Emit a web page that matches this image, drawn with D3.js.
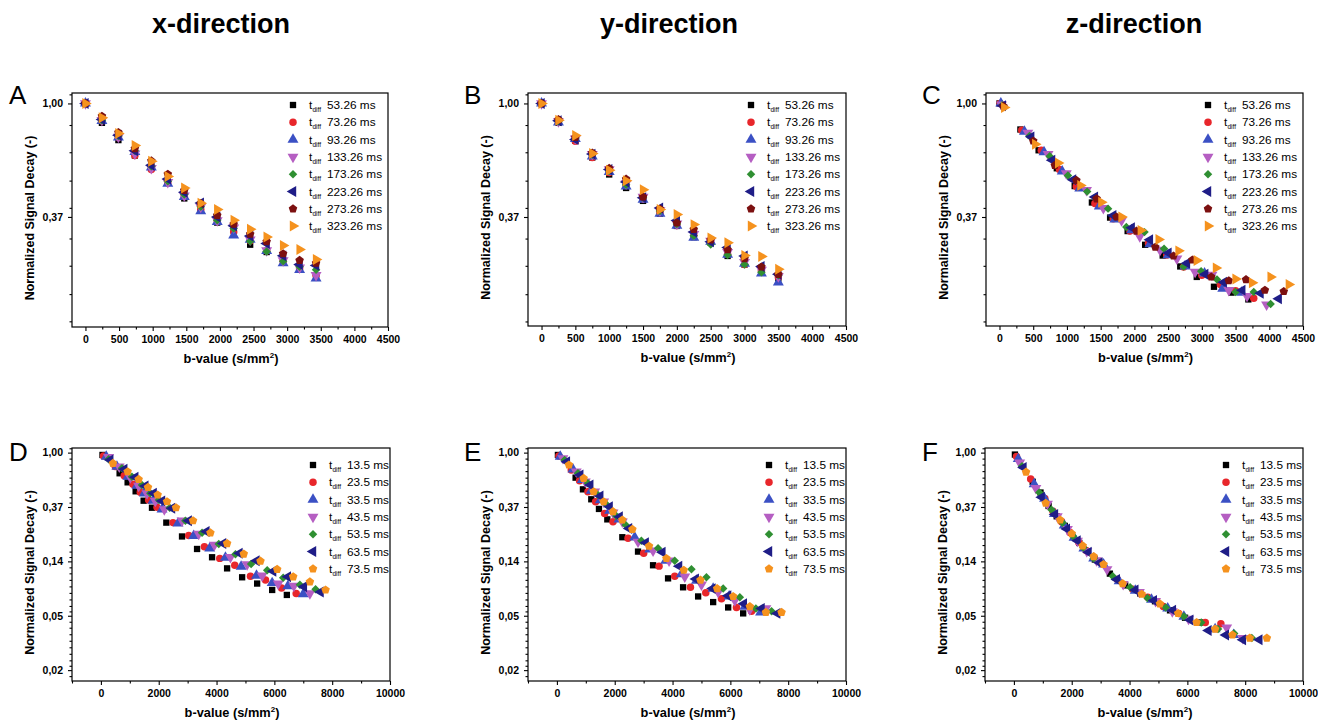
<!DOCTYPE html>
<html>
<head>
<meta charset="utf-8">
<script src="https://cdnjs.cloudflare.com/ajax/libs/d3/7.8.5/d3.min.js"></script>
<style>
body { margin: 0; background: #fff; }
svg { font-family: "Liberation Sans", Arial, sans-serif; }
</style>
</head>
<body>
<div id="chart"></div>
<script>
// column titles and panel letters
var columnTitles = ["x-direction", "y-direction", "z-direction"];
var panelLetters = ["A", "B", "C", "D", "E", "F"];

// legend labels (t_diff)
var legendTop = ["53.26 ms", "73.26 ms", "93.26 ms", "133.26 ms", "173.26 ms", "223.26 ms", "273.26 ms", "323.26 ms"];
var legendBottom = ["13.5 ms", "23.5 ms", "33.5 ms", "43.5 ms", "53.5 ms", "63.5 ms", "73.5 ms"];

// tick values / labels
var xTicksTop = [0, 500, 1000, 1500, 2000, 2500, 3000, 3500, 4000, 4500];
var xMinorTop = [250, 750, 1250, 1750, 2250, 2750, 3250, 3750, 4250];
var xTicksBottom = [0, 2000, 4000, 6000, 8000, 10000];
var xMinorBottom = [-1000, 1000, 3000, 5000, 7000, 9000];
var yTickLabelsTop = ["1,00", "0,37"];
var yTickLabelsBottom = ["1,00", "0,37", "0,14", "0,05", "0,02"];

// panel A: x-direction, long diffusion times
var bA = [0, 245, 490, 735, 980, 1225, 1470, 1715, 1960, 2205, 2450, 2695, 2940, 3185, 3430];
var sigA = [
  [1, .843, .724, .632, .569, .497, .433, .393, .350, .329, .288, .270, .247, .233, .217],
  [1, .858, .741, .632, .559, .497, .441, .393, .357, .322, .298, .273, .250, .233, .220],
  [1, .858, .741, .653, .569, .494, .439, .387, .352, .313, .301, .273, .245, .231, .214],
  [1, .863, .745, .643, .565, .500, .444, .402, .357, .335, .301, .274, .251, .235, .220],
  [1, .863, .750, .659, .575, .504, .448, .402, .357, .332, .297, .271, .249, .237, .231],
  [1, .868, .756, .659, .580, .514, .457, .416, .368, .340, .311, .291, .261, .242, .240],
  [1, .894, .774, .672, .603, .536, .465, .414, .373, .345, .316, .296, .266, .251, .245],
  [1, .881, .767, .690, .601, .525, .475, .415, .393, .357, .330, .308, .286, .276, .253]
];

// panel B: y-direction, long diffusion times
var bB = [0, 250, 500, 750, 1000, 1250, 1500, 1750, 2000, 2250, 2500, 2750, 3000, 3250, 3500];
var sigB = [
  [1, .843, .720, .621, .535, .475, .424, .379, .340, .308, .294, .261, .242, .226, .214],
  [1, .851, .717, .621, .544, .485, .431, .381, .341, .313, .294, .265, .242, .229, .217],
  [1, .846, .732, .628, .547, .482, .429, .379, .341, .307, .296, .264, .244, .224, .207],
  [1, .853, .734, .640, .559, .494, .439, .390, .347, .316, .298, .270, .247, .231, .218],
  [1, .853, .734, .636, .552, .489, .436, .388, .346, .312, .289, .263, .242, .226, .220],
  [1, .858, .728, .640, .559, .501, .436, .398, .357, .322, .296, .281, .261, .238, .222],
  [1, .868, .741, .647, .565, .514, .439, .395, .349, .330, .301, .276, .255, .237, .222],
  [1, .863, .754, .643, .555, .506, .468, .393, .376, .344, .306, .293, .262, .260, .232]
];

// panel C: z-direction, long diffusion times (b differs per series)
var bC = [
  [0, 310, 580, 850, 1115, 1370, 1640, 1900, 2160, 2420, 2680, 2925, 3180, 3440, 3690],
  [10, 330, 620, 890, 1140, 1415, 1686, 1935, 2210, 2480, 2730, 3000, 3275, 3500, 3770],
  [20, 370, 660, 930, 1190, 1480, 1710, 1960, 2230, 2500, 2750, 3040, 3310, 3590],
  [30, 420, 720, 990, 1290, 1540, 1810, 2080, 2380, 2630, 2900, 3150, 3400, 3670, 3960],
  [40, 445, 745, 1015, 1300, 1610, 1880, 2150, 2440, 2730, 2990, 3225, 3500, 3770, 4020],
  [50, 470, 780, 1090, 1415, 1686, 1960, 2230, 2505, 2780, 3050, 3325, 3600, 3870, 4140],
  [60, 500, 820, 1140, 1440, 1735, 2030, 2310, 2580, 2860, 3140, 3400, 3655, 3935, 4215],
  [70, 530, 870, 1200, 1510, 1810, 2095, 2360, 2655, 2925, 3210, 3500, 3745, 4020, 4290]
];
var sigC = [
  [1, .795, .662, .565, .483, .418, .366, .325, .288, .262, .238, .217, .199, .189, .178],
  [1, .790, .662, .559, .481, .414, .362, .325, .292, .263, .237, .220, .203, .192, .180],
  [1, .780, .651, .550, .473, .404, .360, .328, .290, .263, .238, .224, .196, .189],
  [.99, .772, .640, .540, .466, .398, .357, .310, .275, .255, .227, .221, .193, .183, .170],
  [.985, .750, .628, .530, .460, .396, .337, .322, .278, .238, .228, .212, .190, .190, .171],
  [.98, .745, .607, .511, .439, .373, .335, .301, .268, .245, .222, .207, .193, .188, .179],
  [.975, .719, .580, .508, .432, .368, .325, .282, .261, .252, .217, .210, .212, .193, .191],
  [.965, .698, .592, .486, .419, .368, .327, .302, .273, .251, .235, .213, .206, .217, .203]
];

// panel D: x-direction, short diffusion times
var bD = [
  [55, 647, 924, 1201, 1478, 1767, 2263, 2806, 3326, 3845, 4365, 4885, 5404, 5924, 6432],
  [92, 497, 808, 1109, 1363, 1651, 1940, 2494, 3037, 3580, 4111, 4630, 5173, 5693, 6247, 6755],
  [185, 554, 935, 1247, 1501, 1801, 2113, 2667, 3210, 3764, 4307, 4850, 5381, 5924, 6467, 6998],
  [266, 635, 1016, 1305, 1594, 1882, 2194, 2806, 3383, 3926, 4480, 5058, 5577, 6132, 6674, 7229],
  [266, 727, 1074, 1420, 1709, 2009, 2379, 2921, 3499, 4076, 4654, 5197, 5751, 6305, 6882, 7425],
  [323, 808, 1189, 1536, 1824, 2113, 2460, 3037, 3649, 4226, 4792, 5381, 5958, 6467, 7021, 7598],
  [416, 924, 1305, 1628, 1963, 2286, 2598, 3187, 3788, 4365, 4942, 5520, 6097, 6651, 7229, 7771]
];
var sigD = [
  [.958, .684, .579, .491, .413, .363, .276, .214, .170, .146, .119, .101, .090, .080, .073],
  [.940, .773, .655, .558, .482, .418, .366, .276, .218, .177, .143, .126, .103, .096, .083, .075],
  [.929, .773, .643, .545, .473, .413, .352, .272, .216, .172, .145, .123, .104, .091, .086, .074],
  [.918, .773, .635, .541, .473, .411, .352, .286, .224, .183, .146, .128, .104, .090, .086, .075],
  [.884, .750, .643, .551, .473, .418, .363, .286, .229, .186, .154, .129, .115, .100, .088, .081],
  [.874, .736, .635, .541, .473, .411, .359, .286, .234, .188, .157, .137, .113, .102, .085, .077],
  [.822, .705, .612, .528, .459, .406, .363, .286, .229, .188, .155, .136, .117, .102, .093, .080]
];

// panel E: y-direction, short diffusion times
var bE = [
  [35, 647, 901, 1189, 1455, 1744, 2263, 2806, 3326, 3845, 4365, 4885, 5404, 5924, 6443],
  [69, 497, 785, 1074, 1340, 1651, 1940, 2460, 3002, 3533, 4076, 4619, 5150, 5693, 6212, 6732],
  [115, 554, 878, 1189, 1501, 1824, 2148, 2691, 3210, 3764, 4307, 4827, 5404, 5958, 6501, 7044],
  [208, 670, 982, 1305, 1617, 1940, 2263, 2806, 3326, 3880, 4423, 5000, 5577, 6155, 6674, 7229],
  [266, 727, 1074, 1420, 1732, 2055, 2379, 2921, 3499, 4076, 4654, 5173, 5751, 6328, 6882, 7425],
  [346, 808, 1155, 1501, 1824, 2171, 2494, 3072, 3649, 4226, 4804, 5381, 5924, 6467, 7079, 7621],
  [416, 924, 1270, 1617, 1940, 2263, 2610, 3187, 3788, 4388, 4965, 5543, 6097, 6674, 7229, 7771]
];
var sigE = [
  [.958, .631, .509, .424, .355, .293, .211, .162, .126, .099, .084, .071, .064, .058, .052],
  [.940, .727, .597, .488, .406, .327, .281, .207, .157, .124, .103, .084, .076, .068, .058, .054],
  [.929, .736, .605, .497, .418, .344, .293, .211, .169, .137, .107, .095, .082, .071, .059, .053],
  [.901, .705, .586, .488, .406, .331, .281, .194, .165, .137, .102, .088, .077, .066, .056, .057],
  [.874, .684, .569, .459, .381, .312, .264, .198, .172, .137, .117, .101, .082, .070, .057, .054],
  [.847, .663, .551, .450, .370, .308, .248, .191, .160, .124, .098, .082, .072, .062, .057, .052],
  [.797, .623, .488, .406, .338, .290, .244, .179, .143, .115, .096, .082, .071, .059, .053, .053]
];

// panel F: z-direction, short diffusion times
var bF = [
  [35, 650, 920, 1200, 1480, 1760, 2260, 2800, 3320, 3850, 4370, 4880, 5400, 5920, 6440],
  [90, 580, 1070, 1350, 1650, 1940, 2240, 2500, 3040, 3580, 4110, 4630, 5170, 5700, 6620, 7160],
  [150, 700, 1060, 1400, 1740, 2080, 2420, 2760, 3100, 3640, 4200, 4760, 5320, 5880, 6960, 7600],
  [200, 760, 1160, 1500, 1850, 2200, 2520, 2860, 3220, 3780, 4340, 4900, 5480, 6040, 7360, 7920],
  [280, 880, 1300, 1680, 2050, 2400, 2760, 3420, 4020, 4620, 5250, 5880, 6480, 7060, 7620, 8230],
  [330, 960, 1420, 1830, 2200, 2580, 2960, 3560, 4200, 4840, 5500, 6100, 6730, 7330, 7920, 8490],
  [420, 1100, 1600, 2000, 2380, 2760, 3100, 3760, 4420, 5050, 5680, 6320, 6960, 7560, 8160, 8750]
];
var sigF = [
  [.965, .585, .480, .375, .310, .260, .190, .140, .108, .087, .075, .065, .055, .048, .044],
  [.930, .615, .430, .340, .280, .230, .192, .165, .130, .097, .081, .070, .059, .052, .044, .043],
  [.890, .560, .430, .325, .262, .210, .172, .143, .128, .094, .079, .067, .057, .049, .039, .035],
  [.830, .520, .390, .310, .245, .197, .163, .138, .117, .089, .077, .065, .054, .047, .040, .033],
  [.780, .480, .350, .275, .215, .175, .143, .103, .084, .069, .058, .049, .044, .039, .036, .033],
  [.760, .440, .320, .245, .198, .160, .132, .097, .080, .066, .055, .046, .038, .035, .032, .032],
  [.700, .395, .290, .225, .180, .148, .128, .090, .074, .062, .052, .044, .039, .035, .033, .033]
];

// colors and symbols of the series
var colorsTop = ["#000000", "#e8262b", "#3b50c4", "#b55ec2", "#2f8f32", "#1f1d87", "#7c1010", "#f5921e"];
var shapesTop = ["square", "circle", "up", "down", "diamond", "left", "pentagon", "right"];
var colorsBottom = ["#000000", "#e8262b", "#3b50c4", "#b55ec2", "#2f8f32", "#1f1d87", "#f5921e"];
var shapesBottom = ["square", "circle", "up", "down", "diamond", "left", "pentagon"];

var width = 1318;
var height = 723;

var svg = d3.select("#chart")
    .append("svg")
    .attr("width", width)
    .attr("height", height);

// custom pentagon symbol
var symbolPentagon = {
    draw: function(context, size) {
        var r = Math.sqrt(size / 2.378);
        for (var i = 0; i < 5; i++) {
            var a = -Math.PI / 2 + i * 2 * Math.PI / 5;
            if (i === 0) context.moveTo(r * Math.cos(a), r * Math.sin(a));
            else context.lineTo(r * Math.cos(a), r * Math.sin(a));
        }
        context.closePath();
    }
};

function symbolFor(shape) {
    var type = d3.symbolTriangle, size = 52, rot = 0;
    if (shape === "square") { type = d3.symbolSquare; size = 40; }
    if (shape === "circle") { type = d3.symbolCircle; size = 44; }
    if (shape === "diamond") { type = d3.symbolSquare; size = 36; rot = 45; }
    if (shape === "down") rot = 180;
    if (shape === "left") rot = -90;
    if (shape === "right") rot = 90;
    if (shape === "pentagon") { type = symbolPentagon; size = 48; }
    return { path: d3.symbol().type(type).size(size)(), rot: rot };
}

// column titles
var titleX = [221, 669, 1134];
titleX.forEach(function(x, i) {
    svg.append("text")
        .attr("x", x)
        .attr("y", 33)
        .attr("text-anchor", "middle")
        .attr("font-size", "27px")
        .attr("font-weight", "bold")
        .text(columnTitles[i]);
});

// layout of the six panels
var panels = [
    { left: 72, right: 388, top: 93, bottom: 327, letterX: 9, lnTop: 0.092, lnBottom: -1.97, row: 0, b: bA, sig: sigA },
    { left: 528, right: 846, top: 93, bottom: 326, letterX: 464, lnTop: 0.092, lnBottom: -1.96, row: 0, b: bB, sig: sigB },
    { left: 986, right: 1303, top: 93, bottom: 326, letterX: 922, lnTop: 0.092, lnBottom: -1.96, row: 0, b: bC, sig: sigC },
    { left: 72, right: 390, top: 448, bottom: 681, letterX: 9, lnTop: 0.085, lnBottom: -4.2, row: 1, b: bD, sig: sigD },
    { left: 528, right: 846, top: 448, bottom: 681, letterX: 464, lnTop: 0.085, lnBottom: -4.2, row: 1, b: bE, sig: sigE },
    { left: 985, right: 1303, top: 448, bottom: 681, letterX: 922, lnTop: 0.085, lnBottom: -4.2, row: 1, b: bF, sig: sigF }
];

panels.forEach(function(p, pi) {
    var top = p.row === 0;
    var xDomain = top ? [-200, 4500] : [-1000, 10000];
    var x = d3.scaleLinear().domain(xDomain).range([p.left, p.right]);
    var y = d3.scaleLog().base(Math.E)
        .domain([Math.exp(p.lnBottom), Math.exp(p.lnTop)])
        .range([p.bottom, p.top]);

    var yLabels = top ? yTickLabelsTop : yTickLabelsBottom;
    var yMajor = yLabels.map(function(d, i) { return Math.exp(-i); });

    // minor ticks on the log axis
    var fracs = top ? [0.19, 0.43, 0.68, 0.92] : [0.11, 0.22, 0.34, 0.46, 0.58, 0.7, 0.82, 0.92];
    var yMinor = [];
    for (var k = -1; k < yLabels.length; k++) {
        fracs.forEach(function(f) {
            var ln = -(k + f);
            if (ln < p.lnTop && ln > p.lnBottom) yMinor.push(Math.exp(ln));
        });
    }

    var g = svg.append("g");

    // frame
    g.append("rect")
        .attr("x", p.left)
        .attr("y", p.top)
        .attr("width", p.right - p.left)
        .attr("height", p.bottom - p.top)
        .attr("fill", "none")
        .attr("stroke", "#000")
        .attr("stroke-width", 1.2);

    // x axis
    g.append("g")
        .attr("transform", "translate(0," + p.bottom + ")")
        .call(d3.axisBottom(x)
            .tickValues(top ? xTicksTop : xTicksBottom)
            .tickSize(4)
            .tickPadding(5)
            .tickFormat(d3.format("d")));
    g.append("g")
        .attr("transform", "translate(0," + p.bottom + ")")
        .call(d3.axisBottom(x)
            .tickValues(top ? xMinorTop : xMinorBottom)
            .tickSize(2.5)
            .tickFormat(""));

    // y axis
    g.append("g")
        .attr("transform", "translate(" + p.left + ",0)")
        .call(d3.axisLeft(y)
            .tickValues(yMajor)
            .tickSize(4)
            .tickPadding(5)
            .tickFormat(function(d, i) { return yLabels[i]; }));
    g.append("g")
        .attr("transform", "translate(" + p.left + ",0)")
        .call(d3.axisLeft(y)
            .tickValues(yMinor)
            .tickSize(2.5)
            .tickFormat(""));

    g.selectAll(".domain").remove();
    g.selectAll(".tick line").attr("stroke", "#000").attr("stroke-width", 1.1);
    g.selectAll(".tick text")
        .attr("font-family", "'Liberation Sans', Arial, sans-serif")
        .attr("font-size", "10.5px")
        .attr("font-weight", "bold")
        .attr("fill", "#000");

    // axis titles
    var xTitle = g.append("text")
        .attr("x", (p.left + p.right) / 2 + 1)
        .attr("y", p.bottom + 36)
        .attr("text-anchor", "middle")
        .attr("font-size", "12.8px")
        .attr("font-weight", "bold")
        .text("b-value (s/mm");
    xTitle.append("tspan")
        .attr("font-size", "8px")
        .attr("dy", "-5")
        .text("2");
    xTitle.append("tspan")
        .attr("dy", "5")
        .text(")");

    g.append("text")
        .attr("transform", "translate(" + (p.left - 38) + "," + ((p.top + p.bottom) / 2 + 8) + ") rotate(-90)")
        .attr("text-anchor", "middle")
        .attr("font-size", "12.5px")
        .attr("font-weight", "bold")
        .text("Normalized Signal Decay (-)");

    // panel letter
    g.append("text")
        .attr("x", p.letterX)
        .attr("y", p.top + (top ? 11 : 13))
        .attr("font-size", "26px")
        .text(panelLetters[pi]);

    // data points
    var colors = top ? colorsTop : colorsBottom;
    var shapes = top ? shapesTop : shapesBottom;
    p.sig.forEach(function(series, si) {
        var sym = symbolFor(shapes[si]);
        var bs = Array.isArray(p.b[0]) ? p.b[si] : p.b;
        g.append("g")
            .selectAll("path")
            .data(series)
            .enter()
            .append("path")
            .attr("d", sym.path)
            .attr("transform", function(d, i) {
                return "translate(" + x(bs[i]) + "," + y(d) + ") rotate(" + sym.rot + ")";
            })
            .attr("fill", colors[si]);
    });

    // legend
    var labels = top ? legendTop : legendBottom;
    var lx = p.right - (top ? 95 : 77);
    var ly = top ? p.top + 12 : p.top + 17;
    labels.forEach(function(lab, li) {
        var yy = ly + li * 17.3;
        var sym = symbolFor(shapes[li]);
        g.append("path")
            .attr("d", sym.path)
            .attr("transform", "translate(" + lx + "," + yy + ") rotate(" + sym.rot + ")")
            .attr("fill", colors[li]);
        g.append("text")
            .attr("x", lx + 16)
            .attr("y", yy + 4)
            .attr("font-size", "11.8px")
            .text("t");
        g.append("text")
            .attr("x", lx + 19.5)
            .attr("y", yy + 7)
            .attr("font-size", "6.5px")
            .text("diff");
        g.append("text")
            .attr("x", lx + 34)
            .attr("y", yy + 4)
            .attr("font-size", "11.8px")
            .text(lab);
    });
});
</script>
</body>
</html>
